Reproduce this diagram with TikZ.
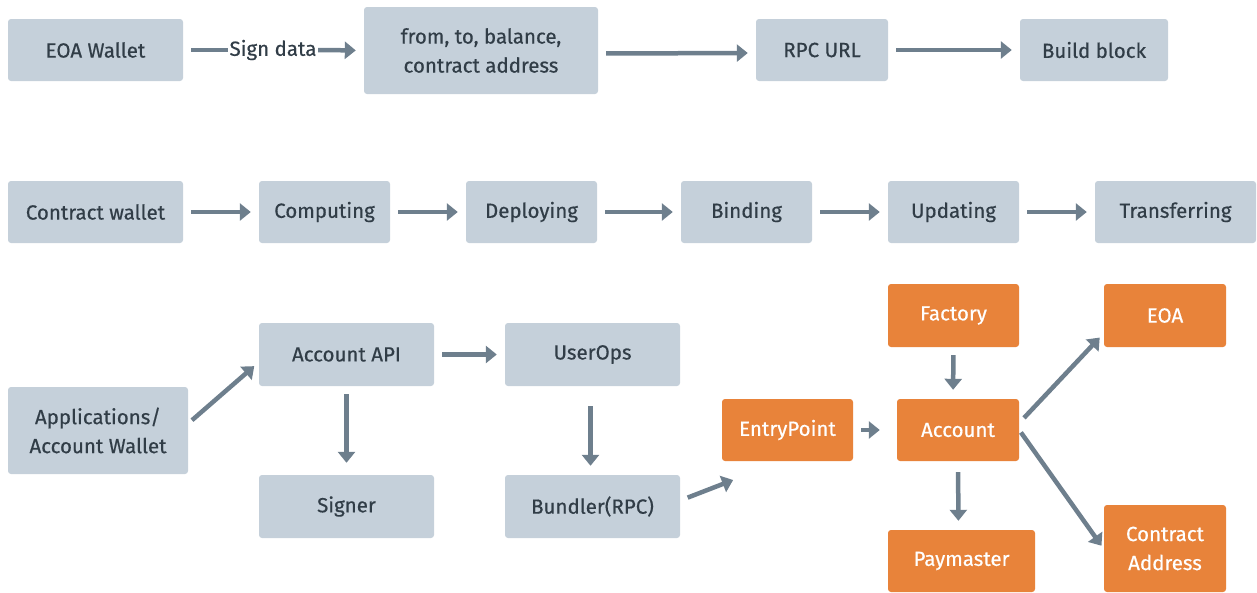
\documentclass[tikz,border=0pt]{standalone}
\usepackage{fontspec}
\setmainfont{Fira Sans}
\newfontfamily\boxfont{Fira Sans}[FakeBold=0.5]
\usetikzlibrary{arrows.meta,calc}
\definecolor{boxgrey}{HTML}{C5D0DA}
\definecolor{txtgrey}{HTML}{313D47}
\definecolor{arrgrey}{HTML}{6E7F8D}
\definecolor{boxorange}{HTML}{E8833A}
\tikzset{
  gbox/.style={fill=boxgrey, text=txtgrey, rounded corners=3pt, inner sep=0pt, align=center, font=\boxfont\fontsize{20.5}{29}\selectfont},
  obox/.style={fill=boxorange, text=white, rounded corners=3pt, inner sep=0pt, align=center, font=\boxfont\fontsize{20.5}{29}\selectfont},
  conn/.style={draw=arrgrey, line width=4.5pt, -{Triangle[length=11pt,width=17pt]}, shorten <=8pt, shorten >=8pt},
  plainconn/.style={draw=arrgrey, line width=4.5pt, shorten <=8pt, shorten >=0pt},
}
\begin{document}
\begin{tikzpicture}[x=1pt,y=-1pt]
\useasboundingbox (0,0) rectangle (1257,592);
% Row 1
\node[gbox, minimum width=175pt, minimum height=62pt] (eoaw) at (95.5,50) {EOA Wallet};
\node[gbox, minimum width=234pt, minimum height=87pt] (fromto) at (481,50.5) {from, to, balance,\\contract address};
\node[gbox, minimum width=132pt, minimum height=62pt] (rpc) at (822,50) {RPC URL};
\node[gbox, minimum width=148pt, minimum height=62pt] (build) at (1094,50) {Build block};
\node[text=txtgrey, inner sep=1.5pt, font=\boxfont\fontsize{20.5}{24}\selectfont] (sign) at (273,50) {Sign data};
\draw[plainconn] (eoaw.east) -- (sign.west);
\draw[conn, shorten <=0pt] (sign.east) -- (fromto.west);
\draw[conn] ([yshift=-3pt]fromto.east) -- ([yshift=-3pt]rpc.west);
\draw[conn] (rpc.east) -- (build.west);
% Row 2
\node[gbox, minimum width=175pt, minimum height=62pt] (cw) at (95.5,212) {Contract wallet};
\node[gbox, minimum width=131pt, minimum height=62pt] (comp) at (324.5,212) {Computing};
\node[gbox, minimum width=131pt, minimum height=62pt] (depl) at (531.5,212) {Deploying};
\node[gbox, minimum width=131pt, minimum height=62pt] (bind) at (746.5,212) {Binding};
\node[gbox, minimum width=131pt, minimum height=62pt] (upd) at (953.5,212) {Updating};
\node[gbox, minimum width=161pt, minimum height=62pt] (trans) at (1175.5,212) {Transferring};
\draw[conn] (cw.east) -- (comp.west);
\draw[conn] (comp.east) -- (depl.west);
\draw[conn] (depl.east) -- (bind.west);
\draw[conn] (bind.east) -- (upd.west);
\draw[conn] (upd.east) -- (trans.west);
% Row 3
\node[gbox, minimum width=180pt, minimum height=87pt] (apps) at (98,430.5) {Applications/\\Account Wallet};
\node[gbox, minimum width=175pt, minimum height=63pt] (api) at (346.5,354.5) {Account API};
\node[gbox, minimum width=175pt, minimum height=63pt] (uops) at (592.5,354.5) {UserOps};
\node[gbox, minimum width=175pt, minimum height=63pt] (signer) at (346.5,506.5) {Signer};
\node[gbox, minimum width=175pt, minimum height=63pt] (bundler) at (592.5,506.5) {Bundler(RPC)};
\node[obox, minimum width=131pt, minimum height=62pt] (entry) at (787.5,430) {EntryPoint};
\node[obox, minimum width=131pt, minimum height=63pt] (factory) at (953.5,315.5) {Factory};
\node[obox, minimum width=122pt, minimum height=62pt] (account) at (958,430) {Account};
\node[obox, minimum width=122pt, minimum height=63pt] (eoa) at (1165,315.5) {EOA};
\node[obox, minimum width=147pt, minimum height=62pt] (pay) at (961.5,561) {Paymaster};
\node[obox, minimum width=122pt, minimum height=87pt] (ca) at (1165,548.5) {Contract\\Address};
\draw[conn, shorten <=5pt, shorten >=6pt] ($(apps.east)+(0,-7)$) -- ($(api.south west)+(0,-24)$);
\draw[conn] (api.east) -- (uops.west);
\draw[conn, shorten <=8pt, shorten >=12pt] (api.south) -- (signer.north);
\draw[conn, shorten <=20pt, shorten >=9pt] ([xshift=-2pt]uops.south) -- ([xshift=-2pt]bundler.north);
\draw[conn, shorten <=8pt, shorten >=5pt] ($(bundler.east)+(0,-6)$) -- ($(entry.south west)+(16,17)$);
\draw[conn] (entry.east) -- ([xshift=-9pt]account.west);
\draw[conn, shorten >=9pt] (factory.south) -- ([xshift=-5pt]account.north);
\draw[conn, shorten <=11pt, shorten >=9pt] (account.south) -- ([xshift=-3pt]pay.north);
\draw[conn, shorten <=7pt, shorten >=6pt] ($(account.east)+(0,-7)$) -- ($(eoa.south west)+(0,-14)$);
\draw[conn, shorten <=3pt, shorten >=4pt] (account.east) -- ($(ca.west)+(0,0.5)$);
\end{tikzpicture}
\end{document}
